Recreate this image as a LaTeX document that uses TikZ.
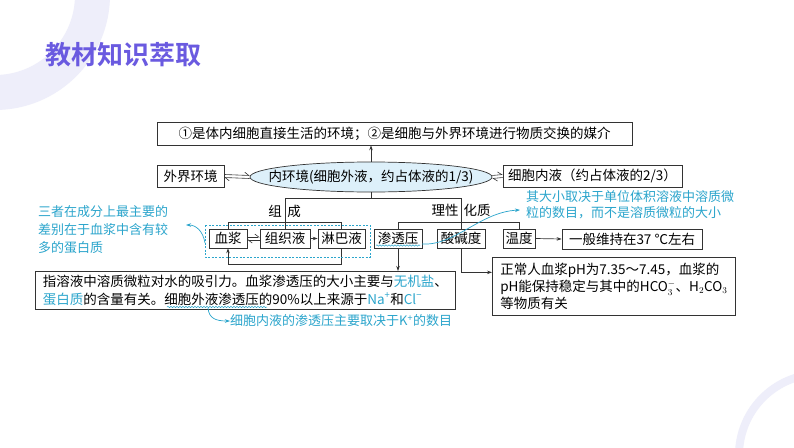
\documentclass[tikz,border=0pt]{standalone}
\usepackage{fontspec}
\setmainfont{Noto Sans CJK SC}
\newfontfamily\titlefont{Noto Sans CJK SC Bold}
\usetikzlibrary{arrows.meta,shapes.geometric,decorations.pathmorphing}
\definecolor{lineC}{HTML}{333333}
\definecolor{cyanC}{HTML}{2BA5CC}
\definecolor{ellC}{HTML}{DDF0FA}
\definecolor{titleC}{HTML}{6A5AE0}
\definecolor{ringC}{HTML}{EEEEFA}
\newcommand\dfont{\fontsize{13.5}{17.5}\selectfont}
\newcommand\nfont{\fontsize{13}{18}\selectfont}
\tikzset{
  box/.style={draw=lineC, line width=0.7pt, inner sep=2pt, font=\dfont, text=black},
  ln/.style={draw=lineC, line width=0.7pt},
  arr/.style={ln, -{Stealth[length=5pt,width=3.5pt]}},
  harp/.style={ln, line width=0.6pt, -{Straight Barb[harpoon,length=4pt,width=6pt]}},
  note/.style={text=cyanC, font=\nfont, inner sep=0pt},
  carr/.style={draw=cyanC, line width=0.7pt, -{Stealth[length=5pt,width=3.5pt]}},
  wave/.style={draw=cyanC, line width=0.5pt, decorate, decoration={snake, amplitude=0.7pt, segment length=3pt}},
  lbl/.style={font=\dfont, inner sep=0pt}
}
\begin{document}
\begin{tikzpicture}[x=1pt,y=-1pt]
\useasboundingbox (0,0) rectangle (794,447);
\fill[white] (0,0) rectangle (794,447);
% decorative rings
\fill[ringC, even odd rule] (-5,-5) circle[radius=115] (-5,-5) circle[radius=80];
\fill[ringC, even odd rule] (820,455) circle[radius=85] (820,455) circle[radius=77];
% title
\node[font=\titlefont\fontsize{26}{30}\selectfont, text=titleC, anchor=west, inner sep=0pt] (title) at (45,55) {教材知识萃取};

% top level
\node[box, minimum width=475, minimum height=23] (top) at (394.5,133.5) {①是体内细胞直接生活的环境；②是细胞与外界环境进行物质交换的媒介};
\node[box, minimum width=67, minimum height=22] (wj) at (190.5,176) {外界环境};
\node[ellipse, draw=lineC, line width=0.7pt, fill=ellC, minimum width=242, minimum height=30, inner xsep=-19pt, inner ysep=1pt, font=\dfont] (nhj) at (371,177) {内环境(细胞外液，约占体液的1/3)};
\node[box, minimum width=179, minimum height=22] (xbn) at (592.5,176) {细胞内液（约占体液的2/3）};

\draw[arr] (nhj.north) -- (nhj.north |- top.south);
\draw[harp] ([yshift=1.5pt]wj.east) -- ([yshift=1.5pt]nhj.west);
\draw[harp] ([yshift=-1.5pt]nhj.west) -- ([yshift=-1.5pt]wj.east);
\draw[harp] ([yshift=1.5pt]nhj.east) -- ([yshift=1.5pt]xbn.west);
\draw[harp] ([yshift=-1.5pt]xbn.west) -- ([yshift=-1.5pt]nhj.east);

% second row
\node[box, minimum width=38, minimum height=19] (xj) at (228,238.5) {血浆};
\node[box, minimum width=50, minimum height=19] (zzy) at (285,238.5) {组织液};
\node[box, minimum width=47, minimum height=19] (lb) at (341.5,238.5) {淋巴液};
\node[box, minimum width=48, minimum height=19] (stf) at (398,238.5) {渗透压};
\node[box, minimum width=48, minimum height=19] (sjd) at (461,238.5) {酸碱度};
\node[box, minimum width=32, minimum height=19] (wd) at (519,238.5) {温度};
\node[box, minimum width=140, minimum height=20] (yb) at (632,239) {一般维持在37 ℃左右};

\node[lbl] at (275,211) {组};
\node[lbl] at (294,211) {成};
\node[lbl] at (445,210) {理性};
\node[lbl] at (477,210) {化质};

% tree lines
\draw[ln] (nhj.south) |- (zzy.north |- 0,198) -- (zzy.north);
\draw[ln] (nhj.south |- 0,198) -| (sjd.north);
\draw[ln] (xj.north) |- (lb.north |- 0,222) -- (lb.north);
\draw[ln] (stf.north) |- (wd.north |- 0,222) -- (wd.north);

% row connectors
\draw[harp] ([yshift=1.5pt]xj.east) -- ([yshift=1.5pt]zzy.west);
\draw[harp] ([yshift=-1.5pt]zzy.west) -- ([yshift=-1.5pt]xj.east);
\draw[arr] (zzy.east) -- (lb.west);
\draw[arr] (lb.south) -- ++(0,16) -| (xj.south);
\draw[arr] (wd.east) -- (yb.west);

% dashed group
\draw[cyanC, line width=0.7pt, dash pattern=on 2pt off 1.5pt] (205,225) rectangle (370,257);

% bottom boxes
\node[box, anchor=north west, align=left, minimum width=420, minimum height=38, inner sep=3pt] (big) at (35,271) {指溶液中溶质微粒对水的吸引力。血浆渗透压的大小主要与\textcolor{cyanC}{无机盐}、\\\textcolor{cyanC}{蛋白质}的含量有关。细胞外液渗透压的90\%以上来源于\textcolor{cyanC}{Na\textsuperscript{+}}和\textcolor{cyanC}{Cl\textsuperscript{−}}};
\node[box, anchor=north west, align=left, minimum width=243, minimum height=58, inner sep=4pt, font=\fontsize{13.5}{17}\selectfont] (ph) at (492,257) {正常人血浆pH为7.35～7.45，血浆的\\pH能保持稳定与其中的HCO$_3^-$、H$_2$CO$_3$\\等物质有关};

\draw[arr] (stf.south) -- (stf.south |- big.north);
\draw[arr] (sjd.south) |- ([yshift=14pt]ph.west);

% cyan notes
\node[note, anchor=north west, align=left] (n1) at (38,205) {三者在成分上最主要的\\差别在于血浆中含有较\\多的蛋白质};
\coordinate (n1tip) at (186,225);
\coordinate (g1) at (205,243);
\draw[carr] (g1) .. controls (203,231) and (196,225) .. (n1tip);

\node[note, anchor=north west, align=left, font=\fontsize{13}{16}\selectfont] (n2) at (526,190) {其大小取决于单位体积溶液中溶质微\\粒的数目，而不是溶质微粒的大小};
\coordinate (n2tip) at (520,210);
\coordinate (s1) at (422,244);
\draw[wave] (376,245.5) -- (420,245.5);
\draw[carr] (s1) .. controls (455,246) and (480,212) .. (n2tip);

\node[note, anchor=west] (n3) at (230,321) {细胞内液的渗透压主要取决于K\textsuperscript{+}的数目};
\coordinate (s2) at (208,308);
\draw[wave] (167,307) -- (267,307);
\draw[carr] (s2) .. controls (209,318) and (215,321) .. (n3.west);
\end{tikzpicture}
\end{document}
